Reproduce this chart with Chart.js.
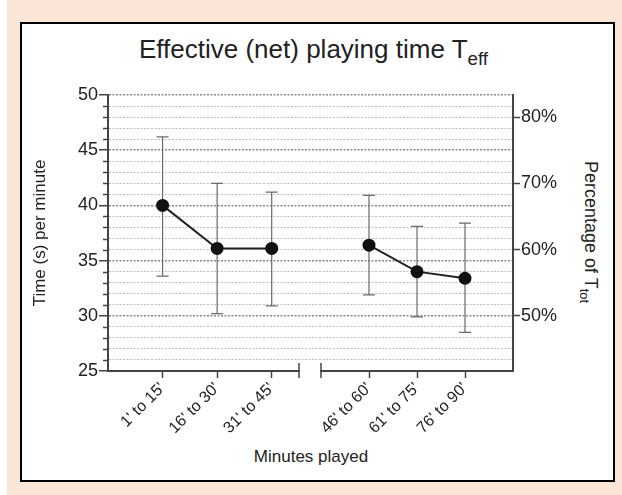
<!DOCTYPE html>
<html>
<head>
<meta charset="utf-8">
<script src="https://cdn.jsdelivr.net/npm/chart.js@4.4.1/dist/chart.umd.min.js"></script>
<style>
  html, body { margin: 0; padding: 0; background: #fff; }
  body { width: 622px; height: 495px; position: relative; overflow: hidden;
         font-family: "Liberation Sans", Arial, Helvetica, sans-serif; color: #222; }
  #peach { position: absolute; left: 7px; top: 0; right: 0; bottom: 0; background: #fbe5d6; }
  #frame { position: absolute; left: 20px; top: 22px; width: 591px; height: 456px;
           background: #fff; border: 2px solid #000; }
  #title { position: absolute; left: 20px; width: 587px; top: 34px; text-align: center;
           font-size: 26px; line-height: 30px; }
  #title sub, #rtitle sub { font-size: 0.72em; line-height: 0; vertical-align: -0.35em; }
  #rtitle { position: absolute; left: 591px; top: 232px; width: 0; height: 0; }
  #rtitle span { position: absolute; left: 0; top: 0; white-space: nowrap; font-size: 18px;
                 line-height: 22px; transform: translate(-50%, -50%) rotate(90deg); }
  #xtitle { position: absolute; left: 211px; width: 200px; top: 447px; text-align: center;
            font-size: 17px; line-height: 20px; }
  canvas { position: absolute; left: 0; top: 0; }
</style>
</head>
<body>
<div id="peach"></div>
<div id="frame"></div>
<div id="title">Effective (net) playing time T<sub>eff</sub></div>
<div id="rtitle"><span>Percentage of T<sub>tot</sub></span></div>
<div id="xtitle">Minutes played</div>
<canvas id="playingTimeChart" width="622" height="495"></canvas>
<script>
// periods of the match (two halves, with an axis break between them)
const periods = ["1' to 15'", "16' to 30'", "31' to 45'", "46' to 60'", "61' to 75'", "76' to 90'"];
const firstHalf = [0, 1, 2];
const secondHalf = [3, 4, 5];

// effective playing time, seconds per minute (mean with error bar ends)
const meanTime = [40.0, 36.1, 36.1, 36.4, 34.0, 33.4];
const upperTime = [46.2, 42.0, 41.2, 40.9, 38.1, 38.4];
const lowerTime = [33.6, 30.2, 30.9, 31.9, 29.9, 28.5];

// tick labels
const timeTicks = [25, 30, 35, 40, 45, 50];
const pctTicks = [50, 60, 70, 80];

const yMin = 25;
const yMax = 50;

function halfData(idx) {
    return idx.map((k, i) => ({ x: i, y: meanTime[k], hi: upperTime[k], lo: lowerTime[k] }));
}

Chart.defaults.font.family = '"Liberation Sans", Arial, Helvetica, sans-serif';
Chart.defaults.color = '#222';

// vertical error bars under the points
const errorBars = {
    id: 'errorBars',
    beforeDatasetsDraw(chart) {
        const ctx = chart.ctx;
        const y = chart.scales.y;
        ctx.save();
        ctx.strokeStyle = '#6a6a6a';
        ctx.lineWidth = 1.2;
        chart.data.datasets.forEach((ds, di) => {
            chart.getDatasetMeta(di).data.forEach((pt, i) => {
                const top = y.getPixelForValue(ds.data[i].hi);
                const bot = y.getPixelForValue(ds.data[i].lo);
                ctx.beginPath();
                ctx.moveTo(pt.x, top); ctx.lineTo(pt.x, bot);
                ctx.moveTo(pt.x - 6, top); ctx.lineTo(pt.x + 6, top);
                ctx.moveTo(pt.x - 6, bot); ctx.lineTo(pt.x + 6, bot);
                ctx.stroke();
            });
        });
        ctx.restore();
    }
};

// minor ticks on the left axis and the break marks on the x axis
const axisExtras = {
    id: 'axisExtras',
    afterDraw(chart) {
        const { ctx, scales } = chart;
        const y = scales.y;
        ctx.save();
        ctx.strokeStyle = '#444';
        ctx.lineWidth = 1.5;
        ctx.beginPath();
        y.ticks.forEach(t => {
            if (timeTicks.includes(t.value)) return;
            const py = Math.round(y.getPixelForValue(t.value)) + 0.5;
            ctx.moveTo(y.right - 5, py);
            ctx.lineTo(y.right, py);
        });
        const base = scales.xL.top;
        [scales.xL.right, scales.xR.left].forEach(px => {
            ctx.moveTo(px, base - 8);
            ctx.lineTo(px, base + 7);
        });
        ctx.stroke();
        ctx.restore();
    }
};

const lineStyle = {
    type: 'line',
    yAxisID: 'y',
    borderColor: '#222',
    borderWidth: 2,
    pointRadius: 5.5,
    pointBackgroundColor: '#111',
    pointBorderColor: '#111',
    tension: 0
};

const xTickStyle = {
    autoSkip: false,
    minRotation: 45,
    maxRotation: 45,
    padding: 1,
    color: '#222',
    font: { size: 16 }
};

const ctx = document.getElementById('playingTimeChart').getContext('2d');
new Chart(ctx, {
    type: 'line',
    data: {
        datasets: [
            Object.assign({ label: 'First half', xAxisID: 'xL', data: halfData(firstHalf) }, lineStyle),
            Object.assign({ label: 'Second half', xAxisID: 'xR', data: halfData(secondHalf) }, lineStyle)
        ]
    },
    options: {
        responsive: false,
        animation: false,
        layout: { padding: { left: 21, right: 49, top: 95, bottom: 14 } },
        plugins: { legend: { display: false }, tooltip: { enabled: false } },
        scales: {
            xL: {
                type: 'linear', position: 'bottom', stack: 'x', stackWeight: 191,
                min: -1, max: 2.5,
                afterBuildTicks: s => { s.ticks = firstHalf.map((k, i) => ({ value: i })); },
                afterFit: s => { s.height = 110; },
                grid: { drawOnChartArea: false, tickLength: 7, tickColor: '#444', tickWidth: 1.5 },
                border: { color: '#444', width: 2 },
                ticks: Object.assign({ callback: v => periods[firstHalf[v]] }, xTickStyle)
            },
            xGap: {
                type: 'linear', position: 'bottom', stack: 'x', stackWeight: 22,
                afterFit: s => { s.height = 110; },
                grid: { display: false },
                border: { display: false },
                ticks: { display: false }
            },
            xR: {
                type: 'linear', position: 'bottom', stack: 'x', stackWeight: 192,
                min: -1, max: 3,
                afterBuildTicks: s => { s.ticks = secondHalf.map((k, i) => ({ value: i })); },
                afterFit: s => { s.height = 110; },
                grid: { drawOnChartArea: false, tickLength: 7, tickColor: '#444', tickWidth: 1.5 },
                border: { color: '#444', width: 2 },
                ticks: Object.assign({ callback: v => periods[secondHalf[v]] }, xTickStyle)
            },
            y: {
                position: 'left',
                min: yMin, max: yMax,
                afterBuildTicks: s => {
                    s.ticks = [];
                    for (let v = yMin; v <= yMax; v++) s.ticks.push({ value: v });
                },
                afterFit: s => { s.width = 87; },
                grid: {
                    color: c => c.tick.value === yMin ? 'rgba(0,0,0,0)'
                        : (timeTicks.includes(c.tick.value) ? '#8a8a8a' : '#bcbcbc'),
                    lineWidth: c => timeTicks.includes(c.tick.value) ? 1.5 : 1,
                    tickLength: 9,
                    tickColor: c => timeTicks.includes(c.tick.value) ? '#444' : 'rgba(0,0,0,0)',
                    tickWidth: 1.5,
                    tickBorderDash: []
                },
                border: { color: '#444', width: 2, dash: [2, 1.5] },
                ticks: {
                    autoSkip: false,
                    padding: 1,
                    color: '#222',
                    font: { size: 18 },
                    callback: v => timeTicks.includes(v) ? v : ''
                },
                title: { display: true, text: 'Time (s) per minute', color: '#222',
                         font: { size: 17 }, padding: { top: 9, bottom: 0 } }
            },
            pct: {
                position: 'right',
                min: yMin / 60 * 100, max: yMax / 60 * 100,
                afterBuildTicks: s => { s.ticks = pctTicks.map(v => ({ value: v })); },
                afterFit: s => { s.width = 60; },
                grid: { drawOnChartArea: false, tickLength: 7, tickColor: '#444', tickWidth: 1.5 },
                border: { color: '#444', width: 2 },
                ticks: { padding: 1, color: '#222', font: { size: 18 }, callback: v => v + '%' }
            }
        }
    },
    plugins: [errorBars, axisExtras]
});
</script>
</body>
</html>
